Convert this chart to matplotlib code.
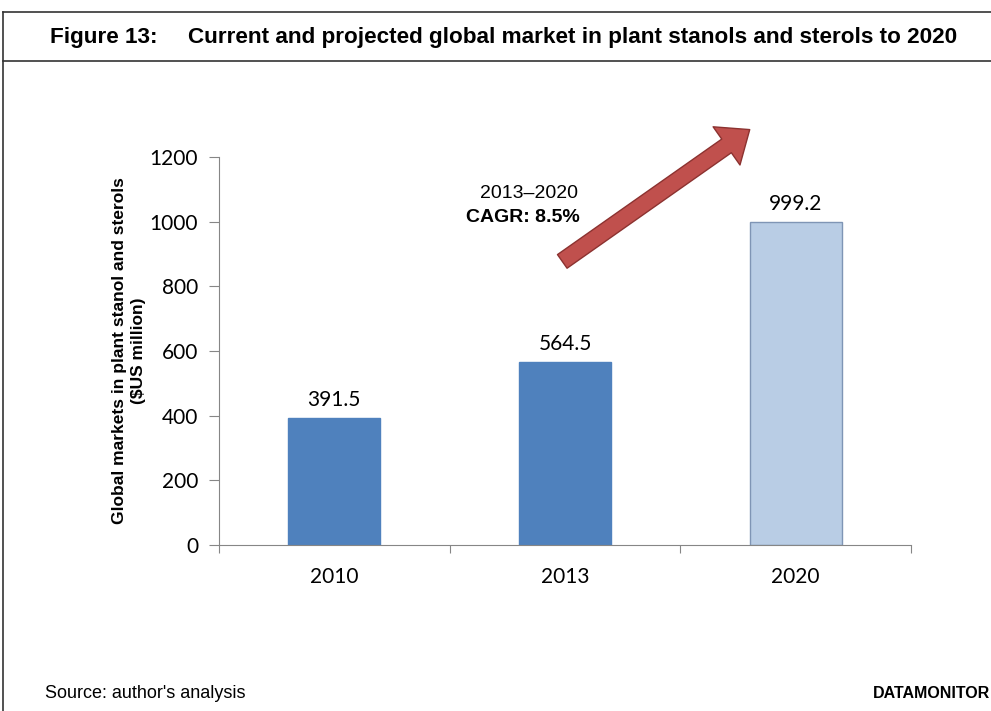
import matplotlib.pyplot as plt
import numpy as np
from matplotlib.lines import Line2D
from matplotlib.patches import FancyArrowPatch

years = ["2010", "2013", "2020"]
market = [391.5, 564.5, 999.2]
bar_colors = ["#4F81BD", "#4F81BD", "#B9CDE5"]
edge_colors = ["#4F81BD", "#4F81BD", "#7F95B5"]

W, H = 991, 711
fig = plt.figure(figsize=(W / 100, H / 100), dpi=100)

def fx(px):
    return px / W

def fy(py):
    return 1 - py / H

# page frame and title rule
frame = dict(color="#333333", lw=1.2, transform=fig.transFigure)
fig.add_artist(Line2D([fx(3), 1], [fy(12), fy(12)], **frame))
fig.add_artist(Line2D([fx(3), 1], [fy(61), fy(61)], **frame))
fig.add_artist(Line2D([fx(3), fx(3)], [fy(12), 0], **frame))

title_font = "Liberation Sans"
fig.text(fx(50), fy(38), "Figure 13:", family=title_font, weight="bold",
         fontsize=16.2, va="center", ha="left")
fig.text(fx(188), fy(38),
         "Current and projected global market in plant stanols and sterols to 2020",
         family=title_font, weight="bold", fontsize=16.2, va="center", ha="left")

ax = fig.add_axes([fx(219), fy(545), fx(911) - fx(219), fy(157) - fy(545)])
x = np.arange(len(years))
bars = ax.bar(x, market, width=0.4, color=bar_colors, edgecolor=edge_colors, lw=1)
ax.set_xlim(-0.5, 2.5)
ax.set_ylim(0, 1200)
ax.set_yticks(range(0, 1201, 200))
ax.set_xticks([-0.5, 0.5, 1.5, 2.5], minor=False)
ax.set_xticklabels([])
ax.set_xticks(x, years, minor=True)
ax.tick_params(axis="x", which="major", length=6, color="#868686")
ax.tick_params(axis="x", which="minor", length=0, pad=16, labelsize=15)
ax.tick_params(axis="y", length=7, color="#868686", labelsize=15, pad=8)
for lab in ax.get_yticklabels() + ax.get_xticklabels(minor=True):
    lab.set_family("Lato")
for side in ["top", "right"]:
    ax.spines[side].set_visible(False)
for side in ["left", "bottom"]:
    ax.spines[side].set_color("#868686")

for xi, v in zip(x, market):
    ax.annotate(f"{v}", (xi, v), xytext=(0, 6), textcoords="offset points",
                ha="center", va="bottom", fontsize=15, family="Lato")

ax.set_ylabel("Global markets in plant stanol and sterols\n($US million)",
              family="Liberation Sans", weight="bold", fontsize=12.5,
              linespacing=1.3, labelpad=3)

# growth arrow
arrow = FancyArrowPatch((fx(560), fy(263)), (fx(752), fy(128)),
                        transform=fig.transFigure,
                        arrowstyle="simple,head_length=1.7,head_width=2.8,tail_width=1.0",
                        mutation_scale=12, facecolor="#C0504D",
                        edgecolor="#8C3230", lw=1)
fig.add_artist(arrow)
fig.text(fx(578), fy(193), "2013\u20132020", family="Liberation Sans",
         fontsize=14, ha="right", va="center")
fig.text(fx(580), fy(217), "CAGR: 8.5%", family="Liberation Sans",
         weight="bold", fontsize=14, ha="right", va="center")

fig.text(fx(45), fy(693), "Source: author's analysis", family=title_font,
         fontsize=13, ha="left", va="center")
fig.text(fx(990), fy(694), "DATAMONITOR", family=title_font, weight="bold",
         fontsize=11.5, ha="right", va="center")

fig.savefig("out.png", dpi=100)
